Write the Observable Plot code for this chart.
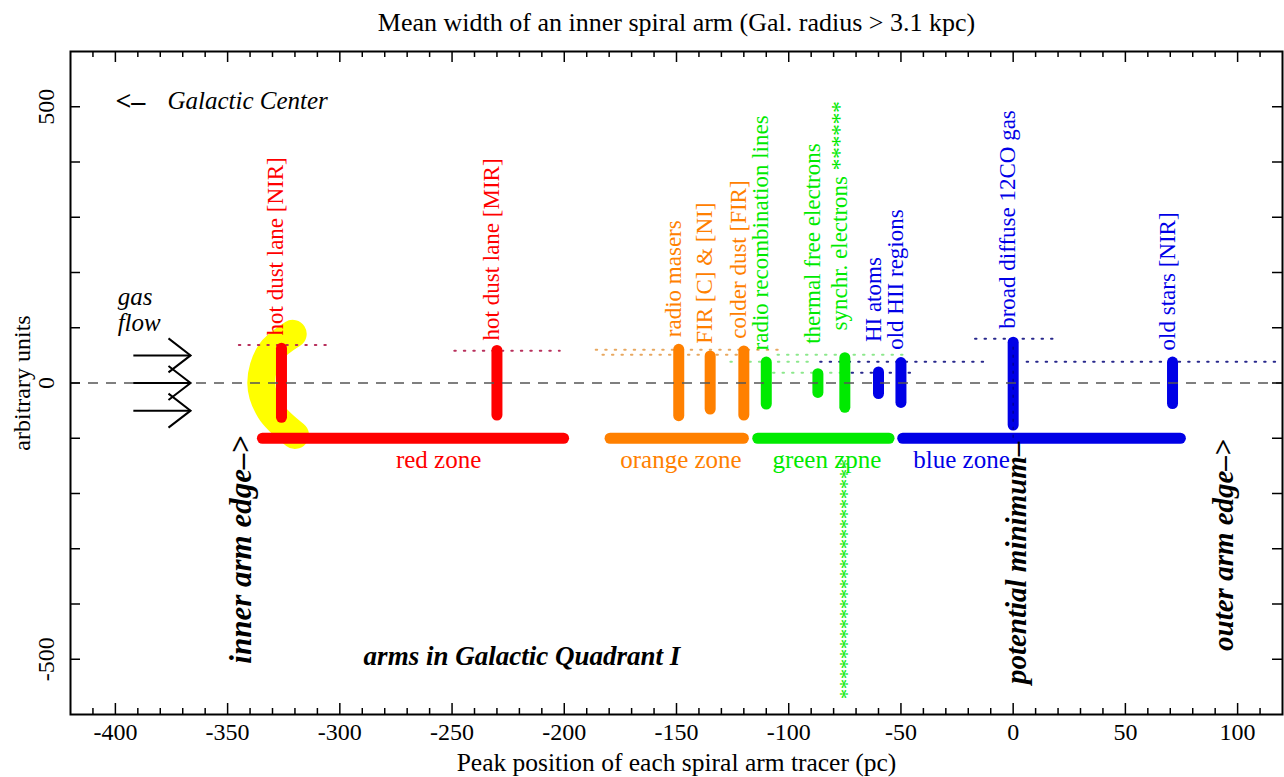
<!DOCTYPE html>
<html>
<head>
<meta charset="utf-8">
<script src="https://cdn.jsdelivr.net/npm/d3@7"></script>
<script src="https://cdn.jsdelivr.net/npm/@observablehq/plot@0.6"></script>
<style>
  html, body { margin: 0; padding: 0; background: white; }
</style>
</head>
<body>
<div id="chart"></div>
<script>
// ---------------- data ----------------
const tracers = ["hot dust lane [NIR]", "hot dust lane [MIR]", "radio masers", "FIR [C] & [NI]",
  "colder dust [FIR]", "radio recombination lines", "thermal free electrons",
  "synchr. electrons ******", "HI atoms", "old HII regions", "broad diffuse 12CO gas", "old stars [NIR]"];
const peakPc    = [-326, -230, -149, -135, -120, -110, -87, -75, -60, -50, 0, 71];
const barTop    = [62, 58, 60, 48, 57, 37, 16, 45, 19, 36, 73, 37];
const barBottom = [-63, -59, -60, -48, -59, -39, -18, -45, -20, -36, -77, -38];
const labelBase = [86, 77, 83, 71, 80, 59, 71, 95, 74, 60, 98, 59];
const tracerZone = ["red", "red", "orange", "orange", "orange", "green", "green", "green", "blue", "blue", "blue", "blue"];

const zoneNames  = ["red zone", "orange zone", "green zpne", "blue zone"];
const zoneKeys   = ["red", "orange", "green", "blue"];
const zoneStart  = [-334.5, -179.6, -113.8, -49.2];
const zoneEnd    = [-200.3, -120.2, -55.3, 74.5];
const zoneLabelX = [-256, -148, -83, -23];
const zoneLevel = -100;
const zoneLabelLevel = -140;

const refLevel = [69, 58.5, 60, 51, 51, 38.6, 38.6, 18.7, 18.7, 80, 38.6];
const refStart = [-345, -249, -186, -183, -105, -126, -86, -107, -72, -17, 6];
const refEnd   = [-303, -202, -102.5, -117, -48, -90.5, -11, -76, -44.6, 21, 120];
const refZone  = ["red", "red", "orange", "orange", "green", "green", "blue", "green", "blue", "blue", "blue"];

const crescentX = [-321, -331, -335, -331, -320];
const crescentY = [89, 55, 0, -50, -94];

const flowY = [50, 0, -50];
const flowFrom = -392;
const flowTo = -366.5;

const xMajorTicks = [-400, -350, -300, -250, -200, -150, -100, -50, 0, 50, 100];
const yMajorTicks = [-500, 0, 500];
const xDomain = [-420, 120];
const yDomain = [-600, 600];

const synchrTail = {x: -75, y: -572, text: "************************"};

// ---------------- styles ----------------
const zoneColor = {red: "#ff0000", orange: "#ff8000", green: "#00ea00", blue: "#0000e6"};
const dotColor  = {red: "#b8305c", orange: "#e8a860", green: "#8ce88c", blue: "#28288c"};
const serif = "'Liberation Serif', 'Times New Roman', Times, serif";

const W = 1284, H = 777, mL = 70, mR = 2, mT = 51, mB = 63;
const pxX = (W - mL - mR) / (xDomain[1] - xDomain[0]);
const pxY = (H - mT - mB) / (yDomain[1] - yDomain[0]);

const tracerData = tracers.map((name, i) => ({name, x: peakPc[i], top: barTop[i], bottom: barBottom[i], base: labelBase[i], zone: tracerZone[i]}));
const zoneData = zoneNames.map((name, i) => ({name, zone: zoneKeys[i], x1: zoneStart[i], x2: zoneEnd[i], lx: zoneLabelX[i]}));
const refData = refLevel.map((y, i) => ({y, x1: refStart[i], x2: refEnd[i], zone: refZone[i]}));
const crescent = crescentX.map((x, i) => ({x, y: crescentY[i]}));

const xTicks = d3.range(xDomain[0] + 10, xDomain[1], 10);
const yTicks = d3.range(yDomain[0] + 100, yDomain[1], 100);

const chevron = {
  draw(context, size) {
    const r = Math.sqrt(size / Math.PI);
    context.moveTo(-1.3 * r, -r);
    context.lineTo(0, 0);
    context.lineTo(-1.3 * r, r);
  }
};

const chart = Plot.plot({
  width: W, height: H,
  marginLeft: mL, marginRight: mR, marginTop: mT, marginBottom: mB,
  x: {domain: xDomain, axis: null},
  y: {domain: yDomain, axis: null},
  color: {type: "identity"},
  style: {fontFamily: serif, background: "white", color: "black"},
  marks: [
    // yellow crescent
    Plot.line(crescent, {x: "x", y: "y", stroke: "#ffff00", strokeWidth: 28, curve: "catmull-rom",
      strokeLinecap: "round", strokeLinejoin: "round"}),
    // dotted reference lines
    Plot.link(refData, {x1: "x1", x2: "x2", y1: "y", y2: "y", stroke: d => dotColor[d.zone],
      strokeWidth: 2, strokeDasharray: "1.5,8", strokeLinecap: "round"}),
    // tracer bars
    Plot.ruleX(tracerData, {x: "x", y1: "bottom", y2: "top", stroke: d => zoneColor[d.zone],
      strokeWidth: 11, strokeLinecap: "round"}),
    // zone bars
    Plot.link(zoneData, {x1: "x1", x2: "x2", y1: zoneLevel, y2: zoneLevel, stroke: d => zoneColor[d.zone],
      strokeWidth: 11, strokeLinecap: "round"}),
    // potential minimum line inside the CO bar
    Plot.ruleX([0], {y1: zoneLevel, y2: barTop[10], stroke: "#000040", strokeOpacity: 0.45,
      strokeWidth: 1.5, strokeDasharray: "3,5"}),
    // zero line
    Plot.ruleY([0], {stroke: "#555", strokeWidth: 1.4, strokeDasharray: "10,8"}),
    // tracer labels
    Plot.text(tracerData, {x: "x", y: "base", text: "name", rotate: -90, textAnchor: "start",
      lineAnchor: "bottom", dx: 2, fill: d => zoneColor[d.zone], fontSize: 23}),
    // zone labels
    Plot.text(zoneData, {x: "lx", y: zoneLabelLevel, text: "name", fill: d => zoneColor[d.zone], fontSize: 25}),
    // synchrotron asterisk tail
    Plot.text([synchrTail], {x: "x", y: "y", text: "text", rotate: -90, textAnchor: "start",
      lineAnchor: "middle", dx: 3, fill: zoneColor.green, fontSize: 20}),
    // gas flow arrows
    Plot.link(flowY, {x1: flowFrom, x2: flowTo, y1: d => d, y2: d => d, stroke: "black", strokeWidth: 2}),
    Plot.dot(flowY, {x: flowTo, y: d => d, symbol: chevron, r: 17, stroke: "black", fill: "none", strokeWidth: 2}),
    Plot.text(["gas"], {x: -399, y: 155, text: d => d, textAnchor: "start", fontStyle: "italic", fontSize: 25}),
    Plot.text(["flow"], {x: -399, y: 109, text: d => d, textAnchor: "start", fontStyle: "italic", fontSize: 25}),
    // Galactic Center
    Plot.text(["<–"], {x: -400, y: 510, text: d => d, textAnchor: "start", fontWeight: "bold", fontSize: 28}),
    Plot.text(["Galactic Center"], {x: -376.8, y: 510, text: d => d, textAnchor: "start", fontStyle: "italic", fontSize: 25}),
    // edge annotations
    Plot.text(["inner arm edge–>"], {x: -344.2, y: -508, text: d => d, rotate: -90, textAnchor: "start",
      lineAnchor: "middle", fontStyle: "italic", fontWeight: "bold", fontSize: 31}),
    Plot.text(["potential minimum–"], {x: 1.6, y: -545, text: d => d, rotate: -90, textAnchor: "start",
      lineAnchor: "middle", fontStyle: "italic", fontWeight: "bold", fontSize: 29}),
    Plot.text(["outer arm edge–>"], {x: 93.9, y: -485, text: d => d, rotate: -90, textAnchor: "start",
      lineAnchor: "middle", fontStyle: "italic", fontWeight: "bold", fontSize: 29}),
    Plot.text(["arms in Galactic Quadrant I"], {x: -289.4, y: -494, text: d => d, textAnchor: "start",
      fontStyle: "italic", fontWeight: "bold", fontSize: 27}),
    // ticks
    Plot.ruleX(xTicks, {x: d => d, y1: yDomain[0], y2: d => yDomain[0] + (xMajorTicks.includes(d) ? 11 : 6) / pxY, stroke: "black", strokeWidth: 1.5}),
    Plot.ruleX(xTicks, {x: d => d, y1: yDomain[1], y2: d => yDomain[1] - (xMajorTicks.includes(d) ? 11 : 6) / pxY, stroke: "black", strokeWidth: 1.5}),
    Plot.ruleY(yTicks, {y: d => d, x1: xDomain[0], x2: xDomain[0] + 10 / pxX, stroke: "black", strokeWidth: 1.5}),
    Plot.ruleY(yTicks, {y: d => d, x1: xDomain[1], x2: xDomain[1] - 10 / pxX, stroke: "black", strokeWidth: 1.5}),
    Plot.frame({stroke: "black", strokeWidth: 2}),
    // tick labels
    Plot.text(xMajorTicks, {x: d => d, frameAnchor: "bottom", dy: 18, text: d => String(d),
      textAnchor: "middle", lineAnchor: "middle", fontSize: 24}),
    Plot.text(yMajorTicks, {y: d => d, frameAnchor: "left", dx: -24, rotate: -90, text: d => String(d),
      textAnchor: "middle", lineAnchor: "middle", fontSize: 24}),
    // axis titles and title
    Plot.text(["Peak position of each spiral arm tracer (pc)"], {frameAnchor: "bottom", dy: 48, text: d => d,
      textAnchor: "middle", lineAnchor: "middle", fontSize: 25.5}),
    Plot.text(["arbitrary units"], {frameAnchor: "left", dx: -48, rotate: -90, text: d => d,
      textAnchor: "middle", lineAnchor: "middle", fontSize: 24}),
    Plot.text(["Mean width of an inner spiral arm (Gal. radius > 3.1 kpc)"], {frameAnchor: "top", dy: -29, text: d => d,
      textAnchor: "middle", lineAnchor: "middle", fontSize: 26})
  ]
});
document.getElementById("chart").append(chart);
</script>
</body>
</html>
